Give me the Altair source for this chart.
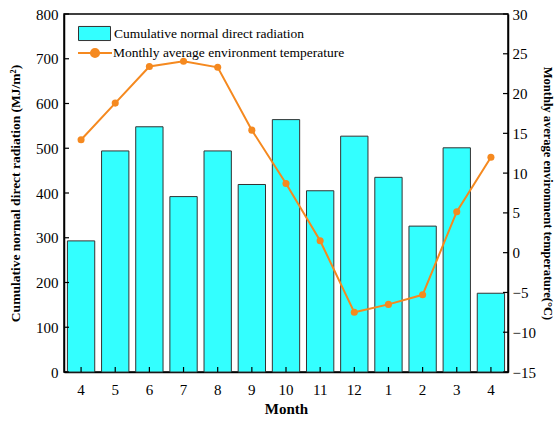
import altair as alt
import pandas as pd

month_labels = ["4", "5", "6", "7", "8", "9", "10", "11", "12", "1", "2", "3", "4"]
radiation = [293, 494, 548, 392, 494, 419, 564, 405, 527, 435, 326, 501, 176]
temperature = [14.2, 18.8, 23.4, 24.05, 23.3, 15.4, 8.7, 1.5, -7.5, -6.5, -5.3, 5.15, 12.0]
left_ticks = [0, 100, 200, 300, 400, 500, 600, 700, 800]
right_ticks = [-15, -10, -5, 0, 5, 10, 15, 20, 25, 30]

W, H = 444, 358
FONT = "Liberation Serif"
CYAN = "#33FFFF"
ORANGE = "#F5891F"

df = pd.DataFrame({
    "idx": list(range(len(month_labels))),
    "rad": radiation,
    "temp": temperature,
    "s1": "Cumulative normal direct radiation",
    "s2": "Monthly average environment temperature",
})
lt = pd.DataFrame({"v": left_ticks})
rt = pd.DataFrame({"v": right_ticks})

label_expr = "[" + ",".join("'%s'" % m for m in month_labels) + "][datum.value]"

x_axis = alt.Axis(title="Month", labelExpr=label_expr, labelAngle=0, labelPadding=10,
                  titlePadding=4, titleFontSize=15, titleFontWeight="bold")
x_scale = alt.Scale(paddingInner=0.2, paddingOuter=0.1)

left_axis = alt.Axis(orient="left", values=left_ticks, labelOverlap=False,
                     title="Cumulative normal direct radiation (MJ/m²)",
                     titleFontSize=13.5, titleFontWeight="bold",
                     labelPadding=6, titlePadding=13)
right_axis = alt.Axis(orient="right", values=right_ticks, labelOverlap=False,
                      title="Monthly average environment temperature(°C)",
                      titleFontSize=12.5, titleFontWeight="bold",
                      labelPadding=4, titlePadding=5)

yleft_scale = alt.Scale(domain=[0, 800], nice=False)
yright_scale = alt.Scale(domain=[-15, 30], nice=False)

bars = alt.Chart(df).mark_bar(stroke="#333333", strokeWidth=1).encode(
    x=alt.X("idx:O", scale=x_scale, axis=x_axis),
    y=alt.Y("rad:Q", scale=yleft_scale, axis=left_axis),
    fill=alt.Fill("s1:N", scale=alt.Scale(range=[CYAN]),
                  legend=alt.Legend(title=None, orient="none", legendX=14, legendY=3,
                                    symbolType="M-1,-0.44H1V0.44H-1Z", symbolSize=1024,
                                    symbolStrokeColor="#333333", symbolStrokeWidth=1,
                                    labelFont=FONT, labelFontSize=13.5, labelOffset=3,
                                    labelLimit=0, labelColor="black")),
)

lticks = alt.Chart(lt).mark_rule(color="black", strokeWidth=1.2).encode(
    y=alt.Y("v:Q", scale=yleft_scale, axis=left_axis), x=alt.value(0), x2=alt.value(5)
)
bticks = alt.Chart(df).mark_rule(color="black", strokeWidth=1.2).encode(
    x=alt.X("idx:O", scale=x_scale, axis=x_axis), y=alt.value(H), y2=alt.value(H - 5)
)

line = alt.Chart(df).mark_line(strokeWidth=2).encode(
    x=alt.X("idx:O", scale=x_scale, axis=x_axis),
    y=alt.Y("temp:Q", scale=yright_scale, axis=right_axis),
    stroke=alt.Stroke("s2:N", scale=alt.Scale(range=[ORANGE]),
                      legend=alt.Legend(title=None, orient="none", legendX=13, legendY=21,
                                        symbolType="M-1,0H1M0.24,0A0.24,0.24,0,1,1,-0.24,0A0.24,0.24,0,1,1,0.24,0",
                                        symbolSize=1156, symbolStrokeWidth=2,
                                        symbolFillColor=ORANGE,
                                        labelFont=FONT, labelFontSize=13.5, labelOffset=0,
                                        labelLimit=0, labelColor="black")),
)
points = alt.Chart(df).mark_circle(size=50, opacity=1, color=ORANGE).encode(
    x=alt.X("idx:O", scale=x_scale, axis=x_axis),
    y=alt.Y("temp:Q", scale=yright_scale, axis=right_axis),
)
rticks = alt.Chart(rt).mark_rule(color="black", strokeWidth=1.2).encode(
    y=alt.Y("v:Q", scale=yright_scale, axis=right_axis), x=alt.value(W), x2=alt.value(W - 5)
)

left = alt.layer(bars, lticks, bticks)
right = alt.layer(line, points, rticks)

chart = (
    alt.layer(left, right)
    .resolve_scale(y="independent", fill="independent", stroke="independent")
    .properties(
        width=W, height=H,
        autosize=alt.AutoSizeParams(type="none"),
        padding={"left": 64, "top": 14, "right": 47, "bottom": 49},
        background="white",
    )
    .configure_view(stroke="black", strokeWidth=1.5)
    .configure_axis(
        grid=False, tickSize=0, domainColor="black", domainWidth=1.5,
        labelFont=FONT, labelFontSize=15, labelColor="black",
        titleFont=FONT, titleColor="black",
    )
)

chart.save("out.html", embed_options={"renderer": "svg", "actions": False})
